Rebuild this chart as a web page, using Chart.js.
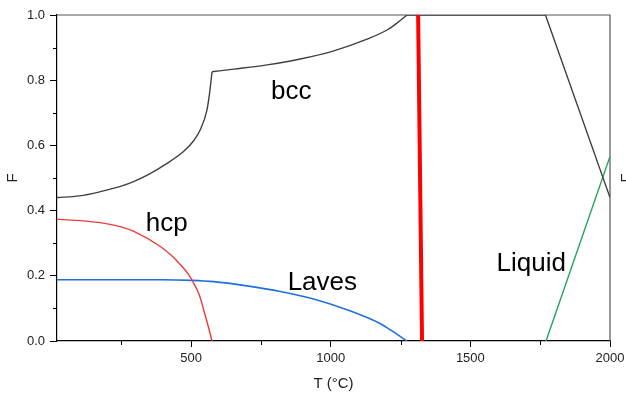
<!DOCTYPE html>
<html>
<head>
<meta charset="utf-8">
<script src="https://cdn.jsdelivr.net/npm/chart.js@4.4.0/dist/chart.umd.min.js"></script>
<style>
  html, body { margin: 0; padding: 0; background: #fff; }
  #wrap { width: 626px; height: 395px; }
</style>
</head>
<body>
<div id="wrap"><canvas id="chart"></canvas></div>
<script>
// phase fractions (T in °C, F)
// bcc is kept in three pieces: the low branch, the high branch after the kink, and the straight hot part
const bccLowT = [20, 100, 175, 250, 294, 350, 414, 473, 510, 533, 557, 567, 575];
const bccLowF = [0.440, 0.445, 0.458, 0.475, 0.489, 0.512, 0.545, 0.581, 0.615, 0.648, 0.709, 0.765, 0.826];
const bccHighT = [575, 653, 772, 891, 1011, 1130, 1202, 1237, 1273];
const bccHighF = [0.826, 0.834, 0.847, 0.865, 0.890, 0.926, 0.954, 0.975, 1.0];
const bccHotT = [1273, 1769, 2000];
const bccHotF = [1.0, 1.0, 0.440];

const hcpT = [20, 175, 250, 295, 390, 430, 462, 490, 509, 530, 545, 560, 575];
const hcpF = [0.374, 0.363, 0.350, 0.336, 0.290, 0.262, 0.234, 0.205, 0.178, 0.140, 0.096, 0.050, 0.0];

const lavesT = [20, 200, 400, 500, 581, 700, 820, 939, 1058, 1178, 1226, 1273];
const lavesF = [0.188, 0.188, 0.188, 0.186, 0.182, 0.169, 0.152, 0.129, 0.096, 0.053, 0.027, 0.0];

const liquidT = [1771, 2000];
const liquidF = [0.0, 0.566];

const markerT = [1313, 1327];
const markerF = [1.0, 0.0];

const labelText = ['bcc', 'hcp', 'Laves', 'Liquid'];
const labelT = [859, 413, 970, 1718];
const labelF = [0.742, 0.336, 0.157, 0.216];

const xTicks = [500, 1000, 1500, 2000];
const xMinor = [250, 750, 1250, 1750];
const yMinor = [0.1, 0.3, 0.5, 0.7, 0.9];

function pts(xs, ys) {
  let out = [];
  for (let i = 0; i < xs.length; i++) {
    out.push({x: xs[i], y: ys[i]});
  }
  return out;
}

const extras = {
  id: 'extras',
  beforeDatasetsDraw(chart) {
    const c = chart.ctx;
    const a = chart.chartArea;
    c.save();
    c.strokeStyle = '#555';
    c.lineWidth = 1.2;
    c.beginPath();
    c.moveTo(a.left, a.top);
    c.lineTo(a.right, a.top);
    c.lineTo(a.right, a.bottom);
    c.stroke();
    c.restore();
  },
  afterDraw(chart) {
    const c = chart.ctx;
    const a = chart.chartArea;
    const x = chart.scales.x;
    const y = chart.scales.y;
    c.save();
    // minor ticks
    c.strokeStyle = '#000';
    c.lineWidth = 1;
    c.beginPath();
    xMinor.forEach(function(v) {
      const px = Math.round(x.getPixelForValue(v)) + 0.5;
      c.moveTo(px, a.bottom);
      c.lineTo(px, a.bottom + 4);
    });
    yMinor.forEach(function(v) {
      const py = Math.round(y.getPixelForValue(v)) + 0.5;
      c.moveTo(a.left, py);
      c.lineTo(a.left - 4, py);
    });
    c.stroke();
    // phase labels
    c.fillStyle = '#000';
    c.font = '26px "Liberation Sans", Arial, sans-serif';
    c.textAlign = 'center';
    c.textBaseline = 'alphabetic';
    for (let i = 0; i < labelText.length; i++) {
      c.fillText(labelText[i], x.getPixelForValue(labelT[i]), y.getPixelForValue(labelF[i]));
    }
    // right axis title, cut off by the edge
    c.fillStyle = '#222';
    c.font = '15px "Liberation Sans", Arial, sans-serif';
    c.textBaseline = 'middle';
    c.translate(627, (a.top + a.bottom) / 2);
    c.rotate(-Math.PI / 2);
    c.fillText('F', 0, 0);
    c.restore();
  }
};

const ctx = document.getElementById('chart').getContext('2d');

const chart = new Chart(ctx, {
  type: 'line',
  data: {
    datasets: [{
      label: 'marker',
      data: pts(markerT, markerF),
      borderColor: '#ff0000',
      borderWidth: 4,
      pointRadius: 0
    },
    {
      label: 'bcc',
      data: pts(bccLowT, bccLowF),
      borderColor: '#404040',
      borderWidth: 1.4,
      pointRadius: 0,
      cubicInterpolationMode: 'monotone'
    },
    {
      label: 'bcc high',
      data: pts(bccHighT, bccHighF),
      borderColor: '#404040',
      borderWidth: 1.4,
      pointRadius: 0,
      cubicInterpolationMode: 'monotone'
    },
    {
      label: 'bcc hot',
      data: pts(bccHotT, bccHotF),
      borderColor: '#404040',
      borderWidth: 1.4,
      pointRadius: 0
    },
    {
      label: 'hcp',
      data: pts(hcpT, hcpF),
      borderColor: '#ee3a3a',
      borderWidth: 1.4,
      pointRadius: 0,
      cubicInterpolationMode: 'monotone'
    },
    {
      label: 'Laves',
      data: pts(lavesT, lavesF),
      borderColor: '#1f6fdc',
      borderWidth: 1.6,
      pointRadius: 0,
      cubicInterpolationMode: 'monotone'
    },
    {
      label: 'Liquid',
      data: pts(liquidT, liquidF),
      borderColor: '#27a35e',
      borderWidth: 1.4,
      pointRadius: 0
    }]
  },
  options: {
    responsive: true,
    maintainAspectRatio: false,
    animation: false,
    layout: {
      padding: {top: 15, right: 16, left: 0, bottom: 0}
    },
    plugins: {
      legend: {display: false},
      tooltip: {enabled: false}
    },
    scales: {
      x: {
        type: 'linear',
        min: 20,
        max: 2000,
        afterFit(scale) {
          scale.height = 54;
          scale.paddingLeft = 0;
          scale.paddingRight = 0;
        },
        afterBuildTicks(scale) {
          scale.ticks = xTicks.map(function(v) { return {value: v}; });
        },
        border: {display: true, color: '#000', width: 1.2},
        grid: {
          drawOnChartArea: false,
          drawTicks: true,
          tickLength: 6,
          color: '#000'
        },
        ticks: {
          padding: 4,
          color: '#222',
          font: {family: '"Liberation Sans", Arial, sans-serif', size: 13},
          callback: function(v) { return String(v); }
        },
        title: {
          display: true,
          text: 'T (°C)',
          color: '#222',
          padding: {top: 0, bottom: 2},
          font: {family: '"Liberation Sans", Arial, sans-serif', size: 15}
        }
      },
      y: {
        type: 'linear',
        min: 0,
        max: 1,
        afterFit(scale) {
          scale.width = 57;
          scale.paddingTop = 0;
          scale.paddingBottom = 0;
        },
        border: {display: true, color: '#000', width: 1.2},
        grid: {
          drawOnChartArea: false,
          drawTicks: true,
          tickLength: 7,
          color: '#000'
        },
        ticks: {
          stepSize: 0.2,
          padding: 5,
          color: '#222',
          font: {family: '"Liberation Sans", Arial, sans-serif', size: 13},
          callback: function(v) { return v.toFixed(1); }
        },
        title: {
          display: true,
          text: 'F',
          color: '#222',
          padding: {top: 4, bottom: 0},
          font: {family: '"Liberation Sans", Arial, sans-serif', size: 15}
        }
      }
    }
  },
  plugins: [extras]
});
</script>
</body>
</html>
